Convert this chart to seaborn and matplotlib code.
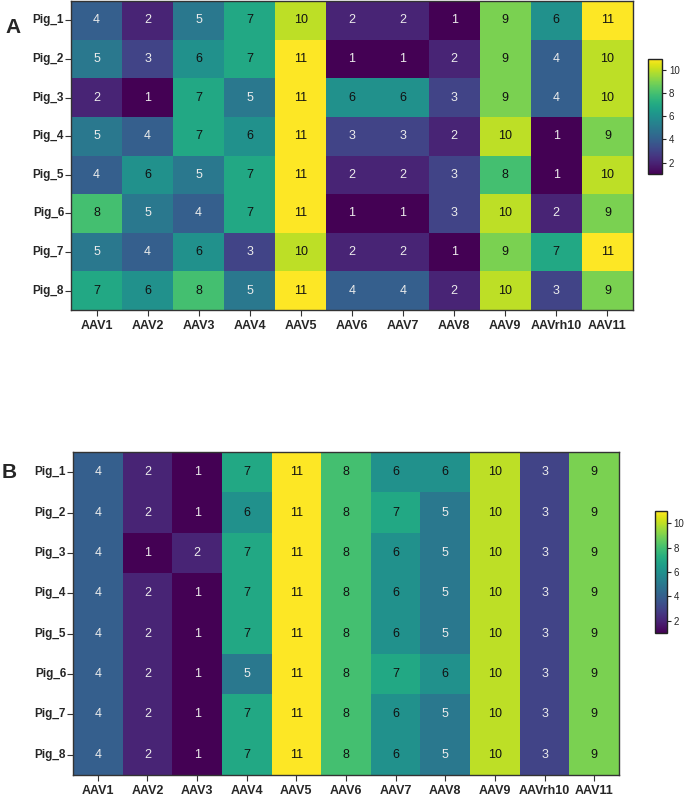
import numpy as np
import pandas as pd
import matplotlib
matplotlib.use("Agg")
import matplotlib.pyplot as plt
import seaborn as sns

sns.set_style("white")
plt.rcParams['font.family'] = ['Liberation Sans', 'DejaVu Sans']

pigs = ['Pig_1', 'Pig_2', 'Pig_3', 'Pig_4', 'Pig_5', 'Pig_6', 'Pig_7', 'Pig_8']
serotypes = ['AAV1', 'AAV2', 'AAV3', 'AAV4', 'AAV5', 'AAV6', 'AAV7', 'AAV8',
             'AAV9', 'AAVrh10', 'AAV11']

ranks_a = [
    [4, 2, 5, 7, 10, 2, 2, 1, 9, 6, 11],
    [5, 3, 6, 7, 11, 1, 1, 2, 9, 4, 10],
    [2, 1, 7, 5, 11, 6, 6, 3, 9, 4, 10],
    [5, 4, 7, 6, 11, 3, 3, 2, 10, 1, 9],
    [4, 6, 5, 7, 11, 2, 2, 3, 8, 1, 10],
    [8, 5, 4, 7, 11, 1, 1, 3, 10, 2, 9],
    [5, 4, 6, 3, 10, 2, 2, 1, 9, 7, 11],
    [7, 6, 8, 5, 11, 4, 4, 2, 10, 3, 9],
]
ranks_b = [
    [4, 2, 1, 7, 11, 8, 6, 6, 10, 3, 9],
    [4, 2, 1, 6, 11, 8, 7, 5, 10, 3, 9],
    [4, 1, 2, 7, 11, 8, 6, 5, 10, 3, 9],
    [4, 2, 1, 7, 11, 8, 6, 5, 10, 3, 9],
    [4, 2, 1, 7, 11, 8, 6, 5, 10, 3, 9],
    [4, 2, 1, 5, 11, 8, 7, 6, 10, 3, 9],
    [4, 2, 1, 7, 11, 8, 6, 5, 10, 3, 9],
    [4, 2, 1, 7, 11, 8, 6, 5, 10, 3, 9],
]

fig = plt.figure(figsize=(6.85, 7.96), dpi=100)

panels = [
    ('A', ranks_a, [0.1036, 0.6106, 0.8204, 0.388], [0.946, 0.7814, 0.0204, 0.1445], (0.008, 0.966)),
    ('B', ranks_b, [0.1066, 0.0264, 0.797, 0.4058], [0.956, 0.2048, 0.0175, 0.153], (0.003, 0.406)),
]

for letter, ranks, ax_pos, cb_pos, lab_pos in panels:
    df = pd.DataFrame(ranks, index=pigs, columns=serotypes)
    ax = fig.add_axes(ax_pos)
    cax = fig.add_axes(cb_pos)
    sns.heatmap(df, ax=ax, cbar_ax=cax, cmap='viridis', vmin=1, vmax=11,
                annot=True, fmt='d', annot_kws={'fontsize': 9})
    # white numbers on dark cells, black on light ones
    for txt in ax.texts:
        v = int(txt.get_text())
        txt.set_color('#ececec' if v <= 5 else '#111111')

    for s in ax.spines.values():
        s.set_visible(True)
        s.set_color('#333333')
        s.set_linewidth(1.0)
    ax.tick_params(axis='both', length=4, width=0.8, color='#333333',
                   left=True, bottom=True, pad=1)
    ax.set_xticklabels(serotypes, rotation=0, fontsize=9, fontweight='bold')
    ax.set_yticklabels(pigs, rotation=0, fontsize=8.5, fontweight='bold')
    ax.tick_params(axis='x', pad=3)
    ax.set_xlabel('')
    ax.set_ylabel('')

    cax.set_yticks([2, 4, 6, 8, 10])
    cax.tick_params(labelsize=7, length=3, width=0.8, pad=2, right=True)
    cax.yaxis.set_ticks_position('right')
    cb = ax.collections[0].colorbar
    cb.outline.set_visible(True)
    cb.outline.set_edgecolor('#222222')
    cb.outline.set_linewidth(1.0)

    fig.text(lab_pos[0], lab_pos[1], letter, fontsize=15, fontweight='bold',
             ha='left', va='center')

plt.savefig('out.png', dpi=100)
